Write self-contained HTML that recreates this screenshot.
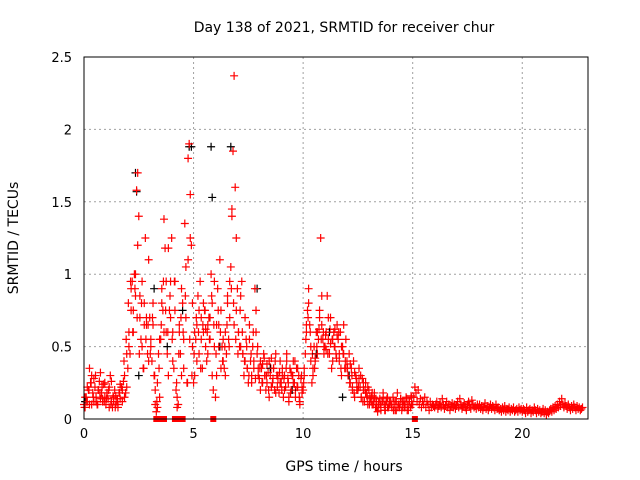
<!DOCTYPE html>
<html><head><meta charset="utf-8"><style>
body{margin:0;background:#fff}
svg{display:block;font-family:"DejaVu Sans","Liberation Sans",sans-serif}
</style></head><body>
<svg id="chart" width="640" height="480">
<text x="344" y="32" font-size="14" text-anchor="middle">Day 138 of 2021, SRMTID for receiver chur</text>
<text x="344" y="471" font-size="14" text-anchor="middle">GPS time / hours</text>
<text transform="translate(18,238) rotate(-90)" font-size="14" text-anchor="middle">SRMTID / TECUs</text>
<g id="grid"></g>
<g id="ticks"></g>
<g id="marks"></g>
<rect x="84" y="57" width="504" height="362" fill="none" stroke="#000" stroke-width="1"/>
</svg>
<script>
const xTicks=[0,5,10,15,20];
const yTicks=[0,0.5,1,1.5,2,2.5];
const yTickLabels=["0","0.5","1","1.5","2","2.5"];
const redStep=0.05;
const redValues=[
0.10,0.08,0.15,0.12,0.20,0.10,0.25,0.30,0.18,0.12,0.22,0.15,0.10,0.20,0.26,0.14,0.18,0.12,0.24,0.15,
0.10,0.18,0.14,0.22,0.30,0.12,0.08,0.15,0.20,0.10,0.12,0.08,0.18,0.14,0.22,0.20,0.26,0.15,0.18,0.22,
0.35,0.50,0.45,0.75,0.95,0.60,1.00,0.85,1.58,1.70,1.40,0.70,0.55,0.95,0.35,0.80,1.25,0.65,0.45,1.10,
0.70,0.55,0.40,0.80,0.30,0.10,0.05,0.25,0.45,0.15,0.55,0.90,0.75,1.38,1.18,0.60,0.45,0.30,0.75,0.95,
1.25,0.60,0.35,0.95,0.20,0.08,0.10,0.65,0.45,0.30,0.80,0.55,1.35,1.05,0.25,1.80,1.90,1.55,1.20,0.80,
0.25,0.30,0.55,0.65,0.85,0.45,0.95,0.70,0.35,0.60,0.75,0.50,0.40,0.65,0.70,0.55,1.00,0.80,0.20,0.50,
0.15,0.30,0.90,0.65,1.10,0.75,0.50,0.40,0.35,0.60,0.45,0.85,0.55,0.70,1.05,1.40,1.85,2.37,1.60,1.25,
0.90,0.60,0.50,0.85,0.95,0.45,0.30,0.40,0.55,0.35,0.25,0.65,0.40,0.30,0.50,0.35,0.90,0.60,0.45,0.30,
0.28,0.40,0.35,0.25,0.45,0.30,0.20,0.38,0.32,0.15,0.30,0.42,0.25,0.35,0.20,0.45,0.30,0.28,0.18,0.40,
0.25,0.35,0.15,0.30,0.22,0.45,0.28,0.12,0.35,0.20,0.30,0.40,0.25,0.15,0.35,0.22,0.30,0.10,0.28,0.18,
0.20,0.30,0.45,0.60,0.75,0.90,0.65,0.40,0.25,0.35,0.50,0.40,0.60,0.45,0.55,0.70,1.25,0.85,0.55,0.45,
0.50,0.60,0.85,0.55,0.45,0.70,0.35,0.55,0.60,0.50,0.45,0.65,0.55,0.40,0.60,0.30,0.50,0.45,0.35,0.55,
0.40,0.30,0.45,0.25,0.35,0.20,0.40,0.15,0.30,0.25,0.20,0.35,0.22,0.15,0.28,0.20,0.12,0.25,0.18,0.10,
0.20,0.15,0.12,0.18,0.10,0.15,0.08,0.12,0.05,0.10,0.14,0.08,0.12,0.18,0.10,0.06,0.12,0.15,0.08,0.10,
0.12,0.08,0.15,0.10,0.06,0.12,0.18,0.10,0.08,0.14,0.06,0.10,0.12,0.08,0.15,0.10,0.06,0.12,0.08,0.10,
0.10,0.15,0.22,0.18,0.12,0.20,0.10,0.14,0.08,0.12,0.10,0.15,0.08,0.12,0.10,0.06,0.12,0.08,0.10,0.09,
0.08,0.10,0.12,0.07,0.09,0.11,0.08,0.14,0.10,0.07,0.09,0.12,0.08,0.10,0.06,0.09,0.11,0.08,0.10,0.07,
0.09,0.12,0.08,0.14,0.10,0.07,0.09,0.11,0.08,0.06,0.10,0.12,0.09,0.07,0.13,0.10,0.08,0.09,0.07,0.10,
0.08,0.10,0.07,0.09,0.06,0.08,0.11,0.07,0.09,0.06,0.08,0.10,0.07,0.09,0.08,0.06,0.10,0.07,0.08,0.06,
0.07,0.05,0.08,0.06,0.09,0.05,0.07,0.06,0.08,0.05,0.07,0.06,0.08,0.05,0.06,0.07,0.05,0.08,0.06,0.07,
0.05,0.07,0.06,0.04,0.08,0.05,0.06,0.07,0.04,0.06,0.05,0.08,0.06,0.04,0.07,0.05,0.06,0.04,0.05,0.07,
0.04,0.06,0.03,0.05,0.04,0.06,0.07,0.05,0.08,0.06,0.09,0.07,0.10,0.08,0.12,0.09,0.14,0.10,0.08,0.11,
0.09,0.07,0.10,0.08,0.06,0.09,0.07,0.10,0.08,0.06,0.09,0.07,0.08,0.06,0.07,0.08];
const redBStep=0.1;
const redBValues=[
0.15,0.22,0.35,0.10,0.28,0.12,0.20,0.32,0.14,0.25,
0.18,0.08,0.26,0.12,0.16,0.10,0.24,0.12,0.30,0.45,
0.60,0.90,0.75,1.00,1.20,0.85,0.50,0.65,0.70,0.40,
0.50,0.65,0.20,0.08,0.55,0.80,0.60,0.95,1.18,0.70,
0.40,0.75,0.15,0.60,0.90,0.35,0.70,1.10,1.25,0.50,
0.60,0.40,0.75,0.55,0.80,0.62,0.45,0.70,0.30,0.95,
0.65,0.50,0.35,0.55,0.30,0.80,0.95,1.45,0.65,0.75,
0.60,0.50,0.45,0.70,0.35,0.55,0.25,0.40,0.75,0.35,
0.20,0.38,0.30,0.25,0.40,0.22,0.35,0.18,0.30,0.25,
0.30,0.20,0.40,0.15,0.32,0.25,0.20,0.35,0.12,0.22,
0.35,0.65,0.80,0.50,0.30,0.42,0.60,0.75,0.65,0.50,
0.48,0.70,0.52,0.40,0.62,0.58,0.45,0.50,0.65,0.35,
0.30,0.38,0.22,0.32,0.20,0.28,0.15,0.25,0.18,0.22,
0.14,0.10,0.18,0.08,0.12,0.06,0.15,0.10,0.08,0.12,
0.08,0.12,0.06,0.10,0.14,0.08,0.10,0.06,0.12,0.15];
const redCStep=0.1;
const redCValues=[
0.08,0.12,0.20,0.25,0.15,0.30,0.10,0.18,0.22,0.12,
0.14,0.20,0.10,0.16,0.08,0.14,0.18,0.22,0.40,0.55,
0.80,0.95,0.60,0.90,0.70,0.45,0.80,0.35,0.55,0.65,
0.45,0.70,0.30,0.12,0.35,0.65,0.95,0.75,0.60,0.85,
0.55,0.95,0.25,0.45,0.70,0.60,0.85,0.25,0.55,0.30,
0.45,0.70,0.60,0.35,0.65,0.75,0.60,0.55,0.85,0.65,
0.45,0.75,0.60,0.40,0.50,0.65,0.50,0.90,0.80,0.55,
0.45,0.75,0.60,0.40,0.50,0.30,0.45,0.60,0.28,0.50,
0.35,0.25,0.42,0.30,0.20,0.35,0.28,0.40,0.22,0.32,
0.20,0.28,0.35,0.25,0.18,0.30,0.40,0.22,0.15,0.30,
0.25,0.55,0.70,0.60,0.45,0.35,0.50,0.62,0.55,0.60,
0.58,0.45,0.62,0.55,0.50,0.42,0.60,0.35,0.45,0.40,
0.35,0.25,0.30,0.18,0.28,0.22,0.30,0.12,0.20,0.15,
0.10,0.16,0.12,0.14,0.08,0.10,0.12,0.06,0.14,0.10,
0.10,0.06,0.12,0.08,0.10,0.12,0.08,0.14,0.10,0.16];
const blackTimes=[2.35,2.4,4.8,4.9,5.8,5.85,6.7,4.5,7.9,3.8,9.5,11.2,2.5,8.5,10.6,12.1,0.05,6.2,3.2,11.8];
const blackValues=[1.70,1.57,1.88,1.88,1.88,1.53,1.88,0.75,0.9,0.5,0.2,0.6,0.3,0.35,0.45,0.3,0.12,0.5,0.9,0.15];
const zeroTimes=[3.3,3.4,3.5,3.65,4.15,4.35,4.5,5.9,15.1];

const X0=84,X1=588,Y0=419,Y1=57,XMAX=23,YMAX=2.5;
const sx=t=>X0+t/XMAX*(X1-X0);
const sy=v=>Y0-v/YMAX*(Y0-Y1);
const NS="http://www.w3.org/2000/svg";
const grid=document.getElementById('grid'),ticks=document.getElementById('ticks'),marks=document.getElementById('marks');
function mk(tag,attrs,parent){const e=document.createElementNS(NS,tag);for(const k in attrs)e.setAttribute(k,attrs[k]);parent.appendChild(e);return e;}
xTicks.forEach(t=>{
  const x=sx(t);
  if(t>0){const g=mk('line',{x1:x,x2:x,y1:Y1,y2:Y0,stroke:'#a0a0a0','stroke-dasharray':'2,3'},grid);
  
  }
  const l=mk('text',{x:x,y:Y0+19,'font-size':13,'text-anchor':'middle'},ticks);l.textContent=String(t);
  
  
});
yTicks.forEach((v,i)=>{
  const y=sy(v);
  if(v>0&&v<YMAX){const g=mk('line',{x1:X0,x2:X1,y1:y,y2:y,stroke:'#a0a0a0','stroke-dasharray':'2,3'},grid);
  
  }
  const l=mk('text',{x:X0-12,y:y+5,'font-size':13,'text-anchor':'end'},ticks);l.textContent=yTickLabels[i];
  
  
});
function plus(t,v,color){
  const x=sx(t),y=sy(v);
  const p=mk('path',{d:`M${x-4},${y}h8M${x},${y-4}v8`,stroke:color,'stroke-width':1.2,fill:'none'},marks);
  
  
}
redBValues.forEach((v,i)=>plus(i*redBStep+0.05,v,'#ff0000'));
redCValues.forEach((v,i)=>plus(i*redCStep+0.025,v,'#ff0000'));
blackTimes.forEach((t,i)=>plus(t,blackValues[i],'#000000'));
redValues.forEach((v,i)=>plus(i*redStep,v,'#ff0000'));
zeroTimes.forEach(t=>{
  const r=mk('rect',{x:sx(t)-3,y:Y0-3,width:6,height:6,fill:'#ff0000'},marks);
  
  
});
</script>
</body></html>
